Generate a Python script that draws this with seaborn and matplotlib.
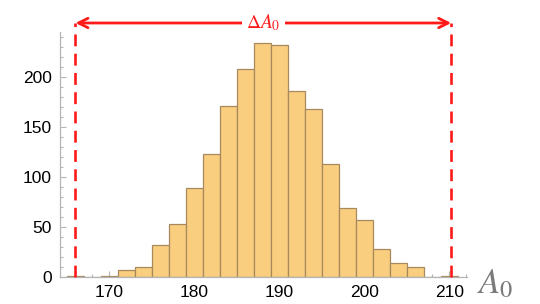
import numpy as np
import matplotlib
matplotlib.use("Agg")
import matplotlib.pyplot as plt
from matplotlib.ticker import MultipleLocator
import seaborn as sns

# histogram data (bin edges, counts per bin)
bin_edges = [165, 167, 169, 171, 173, 175, 177, 179, 181, 183, 185, 187,
             189, 191, 193, 195, 197, 199, 201, 203, 205, 207, 209, 211]
counts = [1, 0, 1, 7, 10, 32, 53, 89, 123, 171, 208, 234,
          232, 186, 168, 113, 69, 57, 28, 14, 10, 0, 1]
bin_centers = [(a + b) / 2 for a, b in zip(bin_edges[:-1], bin_edges[1:])]

# range marker
range_lo = 166.0
range_hi = 210.2
arrow_y = 254

sns.set_style("white")
plt.rcParams['font.family'] = ['Liberation Sans', 'DejaVu Sans']
plt.rcParams['mathtext.fontset'] = 'stix'

fig = plt.figure(figsize=(5.4, 3.04), dpi=100)
ax = fig.add_axes([60 / 540, 27 / 304, 407 / 540, 262 / 304])

sns.histplot(x=bin_centers, weights=counts, bins=bin_edges, ax=ax,
             color='#F9CE7F', edgecolor='#A8895E', linewidth=0.9, alpha=1)

ax.set_xlim(164.18, 212.06)
ax.set_ylim(0, 262)
ax.set_xlabel('')
ax.set_ylabel('')

axis_grey = '#B5B5B5'
for side in ['top', 'right']:
    ax.spines[side].set_visible(False)
for side in ['left', 'bottom']:
    ax.spines[side].set_color(axis_grey)
    ax.spines[side].set_linewidth(0.9)
ax.spines['left'].set_bounds(0, 245)

ax.xaxis.set_major_locator(MultipleLocator(10))
ax.xaxis.set_minor_locator(MultipleLocator(2))
ax.set_yticks([0, 50, 100, 150, 200])
ax.set_yticks([v for v in range(0, 250, 10) if v % 50], minor=True)
ax.tick_params(axis='both', which='major', direction='in', length=4,
               width=0.8, color=axis_grey, labelsize=12.5, labelcolor='black', pad=6)
ax.tick_params(axis='both', which='minor', direction='in', length=2,
               width=0.8, color=axis_grey)
ax.tick_params(axis='x', which='both', bottom=True)
ax.tick_params(axis='y', which='both', left=True)

# dashed limits and double arrow
for xv in [range_lo, range_hi]:
    ax.plot([xv, xv], [0, arrow_y], color='#FF1A1A', lw=1.9,
            linestyle=(0, (4.5, 2.8)), clip_on=False, zorder=5)
ax.annotate('', xy=(range_lo, arrow_y), xytext=(range_hi, arrow_y),
            arrowprops=dict(arrowstyle='<->', color='#FF1A1A', lw=2,
                            mutation_scale=17, shrinkA=0, shrinkB=0),
            annotation_clip=False, zorder=6)
ax.text((range_lo + range_hi) / 2, arrow_y, r'$\Delta A_0$', color='#FF1A1A',
        fontsize=14, ha='center', va='center', zorder=7,
        bbox=dict(facecolor='white', edgecolor='none', pad=3), clip_on=False)

# axis label at the end of the x axis
fig.text(477 / 540, 1 - 284 / 304, r'$A_0$', color='#7A7A7A', fontsize=25,
         ha='left', va='center')

plt.savefig('out.png', dpi=100)
